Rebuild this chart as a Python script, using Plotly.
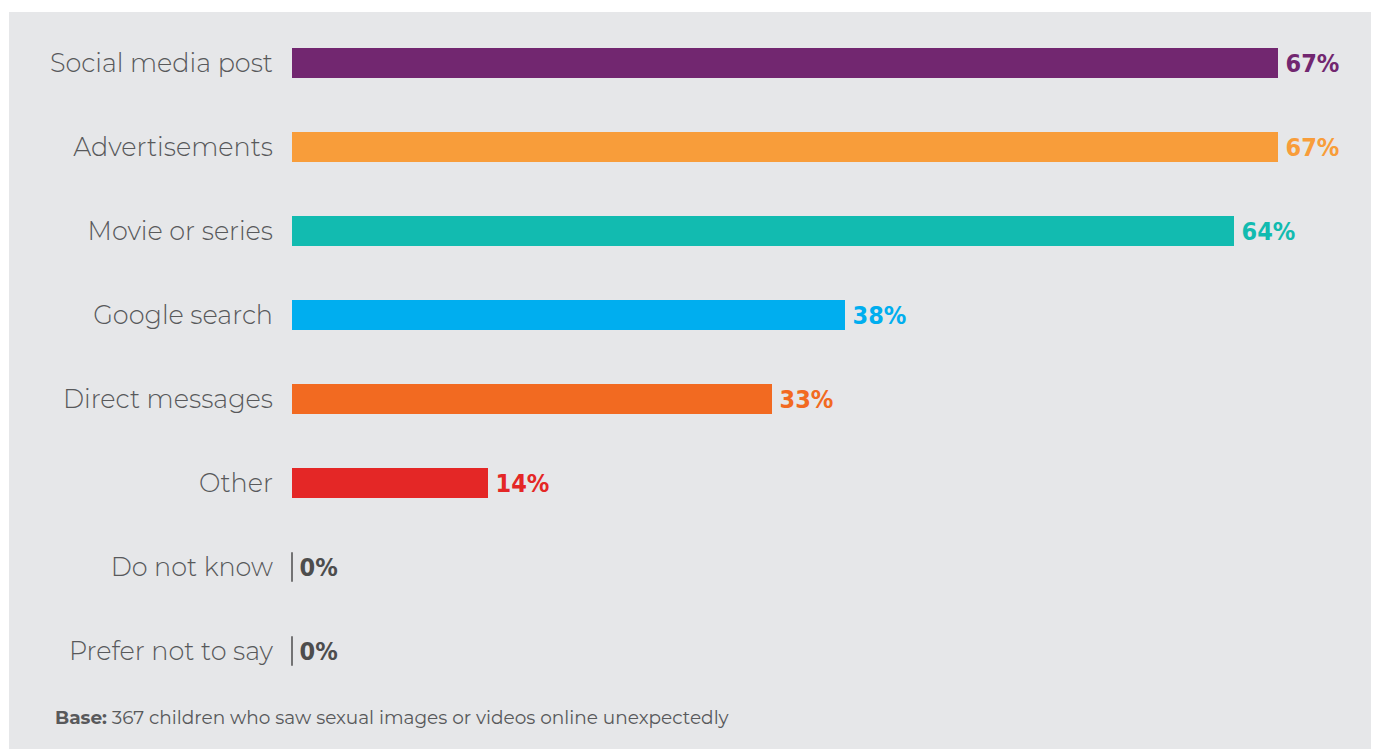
import plotly.graph_objects as go

categories = ["Social media post", "Advertisements", "Movie or series", "Google search",
              "Direct messages", "Other", "Do not know", "Prefer not to say"]
values = [67, 67, 64, 37.6, 32.6, 13.3, 0, 0]
labels = ["67%", "67%", "64%", "38%", "33%", "14%", "0%", "0%"]
colors = ["#722770", "#f89d3a", "#12bbb0", "#00aeef", "#f26a21", "#e42726", "#4d4d4d", "#4d4d4d"]
footnote_bold = "Base:"
footnote_text = "367 children who saw sexual images or videos online unexpectedly"

W, H = 1373, 751
ml, mr, mt, mb = 292, 23, 21, 58
pw = W - ml - mr
ph = H - mt - mb
label_font = "Liberation Sans Narrow, DejaVu Sans Condensed, Arial Narrow, sans-serif"

fig = go.Figure()
fig.add_trace(go.Bar(
    x=values, y=categories, orientation="h",
    marker=dict(color=colors, line=dict(width=0)),
    width=0.36,
    text=["\u2009" + t for t in labels],
    textposition="outside",
    textfont=dict(family=label_font, size=25, color=colors, weight="bold"),
    cliponaxis=False,
    hoverinfo="skip",
))

zero_y = [c for c, v in zip(categories, values) if v == 0]
zero_x = [v for v in values if v == 0]
fig.add_trace(go.Scatter(
    x=zero_x, y=zero_y, mode="markers",
    marker=dict(symbol="line-ns", size=21, line=dict(width=1.5, color="#4d4d4d")),
    cliponaxis=False, hoverinfo="skip", showlegend=False,
))

fig.add_shape(type="rect", xref="paper", yref="paper",
              x0=(9 - ml) / pw, x1=(1371 - ml) / pw,
              y0=(H - mb - 749) / ph, y1=(H - mb - 12) / ph,
              fillcolor="#e6e7e9", line=dict(width=0), layer="below")

fig.add_annotation(
    xref="paper", yref="paper",
    x=(53 - ml) / pw, y=(H - mb - 717) / ph,
    xanchor="left", yanchor="middle", showarrow=False,
    text=f"<b>{footnote_bold}</b> {footnote_text}",
    font=dict(family="Montserrat, Open Sans, sans-serif", size=18.5, color="#58595b"),
)

fig.update_layout(
    width=W, height=H,
    margin=dict(l=ml, r=mr, t=mt, b=mb),
    paper_bgcolor="white",
    plot_bgcolor="rgba(0,0,0,0)",
    showlegend=False,
    bargap=0,
    xaxis=dict(range=[0, pw / 14.72], visible=False, fixedrange=True),
    yaxis=dict(
        range=[7.5, -0.5], type="category",
        showgrid=False, zeroline=False, showline=False, ticks="",
        ticklabelstandoff=18,
        tickfont=dict(family="Montserrat, Open Sans, sans-serif", size=25.5, color="#58595b", weight=300),
        fixedrange=True,
    ),
)

fig.write_html("out.html")
